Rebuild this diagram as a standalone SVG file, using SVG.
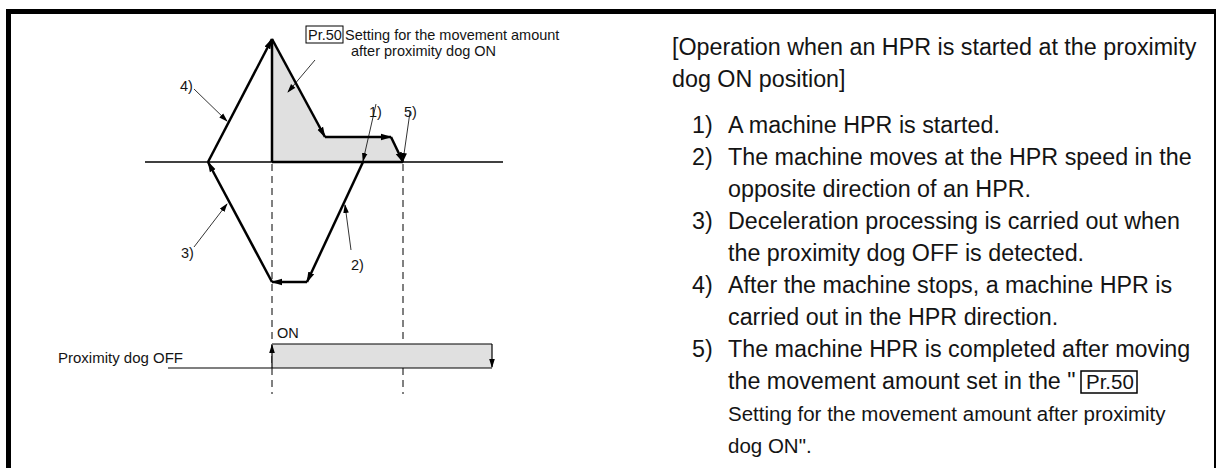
<svg xmlns="http://www.w3.org/2000/svg" width="1216" height="468" viewBox="0 0 1216 468">
<defs>
<style>
.t{font-family:"Liberation Sans",Arial,sans-serif;fill:#141414}
.d{font-size:14.5px}
.m{font-size:23.3px}
.s{font-size:20.5px}
.thick{stroke:#000;stroke-width:2.5;fill:none}
.lead{stroke:#000;stroke-width:0.8;fill:none}
.dash{stroke:#000;stroke-width:1;stroke-dasharray:7 5;fill:none}
</style>
<marker id="ah" markerUnits="userSpaceOnUse" markerWidth="12" markerHeight="8" refX="10" refY="4" orient="auto">
<path d="M0,0.8 L11,4 L0,7.2 z" fill="#000"/>
</marker>
<marker id="al" markerUnits="userSpaceOnUse" markerWidth="9" markerHeight="6" refX="8" refY="3" orient="auto">
<path d="M0,0.2 L9,3 L0,5.8 z" fill="#000"/>
</marker>
</defs>
<rect x="8.5" y="11.5" width="1208" height="480" fill="none" stroke="#000" stroke-width="5"/>

<g id="chart">
<polygon points="272,39 325,137 391,137 403,162 272,162" fill="#e0e0e0"/>
<line x1="145" y1="162" x2="503" y2="162" stroke="#000" stroke-width="1.5"/>
<line x1="272" y1="39" x2="272" y2="162" class="thick"/>
<line x1="272" y1="162" x2="403" y2="162" class="thick"/>
<line x1="272" y1="164" x2="272" y2="394" class="dash"/>
<line x1="403" y1="164" x2="403" y2="394" class="dash"/>
</g>

<g id="connectors">
<line x1="363" y1="162" x2="307" y2="282" class="thick" marker-end="url(#ah)"/>
<line x1="307" y1="282" x2="272" y2="282" class="thick" marker-end="url(#ah)"/>
<line x1="272" y1="282" x2="208" y2="162" class="thick" marker-end="url(#ah)"/>
<line x1="208" y1="162" x2="272" y2="39" class="thick" marker-end="url(#ah)"/>
<line x1="272" y1="39" x2="325" y2="137" class="thick" marker-end="url(#ah)"/>
<line x1="325" y1="137" x2="391" y2="137" class="thick" marker-end="url(#ah)"/>
<line x1="391" y1="137" x2="403" y2="162" class="thick" marker-end="url(#ah)"/>
<line x1="194" y1="89" x2="227" y2="121" class="lead" marker-end="url(#al)"/>
<line x1="315" y1="60" x2="288" y2="92" class="lead" marker-end="url(#al)"/>
<line x1="376" y1="104" x2="363" y2="161" class="lead" marker-end="url(#al)"/>
<line x1="410" y1="112" x2="403" y2="161" class="lead" marker-end="url(#al)"/>
<line x1="194" y1="247" x2="227" y2="204" class="lead" marker-end="url(#al)"/>
<line x1="351" y1="250" x2="345" y2="205" class="lead" marker-end="url(#al)"/>
</g>

<g id="labels">
<text class="t d" x="180" y="91">4)</text>
<text class="t d" x="369" y="117">1)</text>
<text class="t d" x="404" y="117">5)</text>
<text class="t d" x="181" y="258">3)</text>
<text class="t d" x="351" y="270">2)</text>
</g>

<g id="pr50-note">
<rect x="306" y="26" width="37" height="17" fill="none" stroke="#000" stroke-width="1"/>
<text class="t d" x="308" y="40">Pr.50</text>
<text class="t d" x="345" y="40">Setting for the movement amount</text>
<text class="t d" x="351" y="56">after proximity dog ON</text>
</g>

<g id="dog-signal">
<rect x="272" y="344" width="220" height="24" fill="#e0e0e0"/>
<line x1="168" y1="368" x2="492" y2="368" stroke="#000" stroke-width="1.2"/>
<line x1="272" y1="344" x2="492" y2="344" stroke="#000" stroke-width="1.2"/>
<line x1="272" y1="368" x2="272" y2="345" stroke="#000" stroke-width="1.2" marker-end="url(#al)"/>
<line x1="492" y1="344" x2="492" y2="367" stroke="#000" stroke-width="1.2" marker-end="url(#al)"/>
<text class="t d" x="277" y="338">ON</text>
<text class="t" style="font-size:15px" x="58" y="363">Proximity dog OFF</text>
</g>

<g id="description">
<text class="t m" x="672" y="55">[Operation when an HPR is started at the proximity</text>
<text class="t m" x="672" y="87">dog ON position]</text>
<text class="t m" x="692" y="133">1)</text>
<text class="t m" x="728" y="133">A machine HPR is started.</text>
<text class="t m" x="692" y="165">2)</text>
<text class="t m" x="728" y="165">The machine moves at the HPR speed in the</text>
<text class="t m" x="728" y="197">opposite direction of an HPR.</text>
<text class="t m" x="692" y="229">3)</text>
<text class="t m" x="728" y="229">Deceleration processing is carried out when</text>
<text class="t m" x="728" y="261">the proximity dog OFF is detected.</text>
<text class="t m" x="692" y="293">4)</text>
<text class="t m" x="728" y="293">After the machine stops, a machine HPR is</text>
<text class="t m" x="728" y="325">carried out in the HPR direction.</text>
<text class="t m" x="692" y="357">5)</text>
<text class="t m" x="728" y="357">The machine HPR is completed after moving</text>
<text class="t m" x="728" y="389">the movement amount set in the "</text>
<rect x="1081" y="371" width="56" height="22" fill="none" stroke="#000" stroke-width="1.5"/>
<text class="t s" x="1086" y="389">Pr.50</text>
<text class="t s" x="728" y="421">Setting for the movement amount after proximity</text>
<text class="t s" x="728" y="453">dog ON".</text>
</g>
</svg>
